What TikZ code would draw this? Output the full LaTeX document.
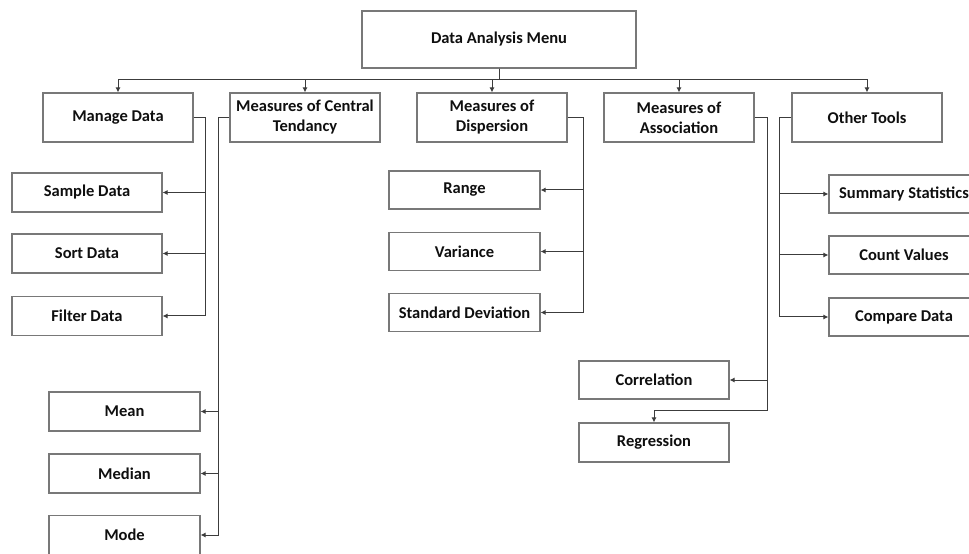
\documentclass[tikz,border=0pt]{standalone}
\usepackage{fontspec}
\setmainfont{Carlito}
\usetikzlibrary{arrows.meta}

\definecolor{boxline}{RGB}{120,120,120}
\definecolor{wire}{RGB}{60,60,60}
\definecolor{ink}{RGB}{15,15,15}

\tikzset{
  menubox/.style={draw=boxline, line width=1.1bp, rectangle, inner sep=0pt,
    align=center, text=ink, font=\fontsize{16.5bp}{20bp}\selectfont\bfseries,
    minimum width=150bp, minimum height=49bp},
  leafbox/.style={menubox, minimum height=39bp},
  wireline/.style={draw=wire, line width=1bp},
  wirearrow/.style={wireline, -{Latex[length=5bp,width=5bp]}}
}

\begin{document}
\begin{tikzpicture}[x=1bp, y=-1bp]
  \useasboundingbox[fill=white] (0,0) rectangle (969,554);

  % root
  \node[menubox, minimum width=274bp, minimum height=57bp] (root) at (499,39.5) {Data Analysis Menu};

  % first level
  \node[menubox] (manage) at (118,117.5) {Manage Data};
  \node[menubox] (central) at (305,117.5) {Measures of Central\\Tendancy};
  \node[menubox] (disp) at (492,117.5) {Measures of\\Dispersion};
  \node[menubox] (assoc) at (679,117.5) {Measures of\\Association};
  \node[menubox] (other) at (867,117.5) {Other Tools};

  % Manage Data
  \node[leafbox] (sample) at (87,192.5) {Sample Data};
  \node[leafbox] (sort) at (87,253.5) {Sort Data};
  \node[leafbox] (filter) at (87,316) {Filter Data};

  % Central tendancy
  \node[leafbox, minimum width=151bp] (mean) at (124.5,411.5) {Mean};
  \node[leafbox, minimum width=151bp] (median) at (124.5,473.5) {Median};
  \node[leafbox, minimum width=151bp] (mode) at (124.5,535) {Mode};

  % Dispersion
  \node[leafbox, minimum width=151bp, minimum height=38bp] (range) at (464.5,190) {Range};
  \node[leafbox, minimum width=151bp, minimum height=38bp] (variance) at (464.5,251.5) {Variance};
  \node[leafbox, minimum width=151bp, minimum height=38bp] (stddev) at (464.5,312.5) {Standard Deviation};

  % Association
  \node[leafbox, minimum height=38bp] (corr) at (654,380) {Correlation};
  \node[leafbox] (regr) at (654,442.5) {Regression};

  % Other tools
  \node[leafbox, minimum height=38bp] (summary) at (904,194) {Summary Statistics};
  \node[leafbox, minimum height=38bp] (count) at (904,255) {Count Values};
  \node[leafbox, minimum height=38bp] (compare) at (904,317) {Compare Data};

  % trunk positions
  \coordinate (bus) at (0,80);
  \coordinate (mdx) at (205,0);
  \coordinate (ctx) at (218,0);
  \coordinate (dsx) at (583,0);
  \coordinate (asx) at (767,0);
  \coordinate (asturn) at (767,410);
  \coordinate (otx) at (779,0);

  % root to first level
  \draw[wirearrow] (root.south) -- (root.south |- bus) -| (manage.north);
  \draw[wirearrow] (root.south) -- (root.south |- bus) -| (central.north);
  \draw[wirearrow] (root.south) -- (root.south |- bus) -| (disp.north);
  \draw[wirearrow] (root.south) -- (root.south |- bus) -| (assoc.north);
  \draw[wirearrow] (root.south) -- (root.south |- bus) -| (other.north);

  % Manage Data branch
  \draw[wirearrow] (manage.east) -| (mdx |- filter.east) -- (filter.east);
  \draw[wirearrow] (mdx |- sample.east) -- (sample.east);
  \draw[wirearrow] (mdx |- sort.east) -- (sort.east);

  % Central tendancy branch
  \draw[wirearrow] (central.west) -| (ctx |- mode.east) -- (mode.east);
  \draw[wirearrow] (ctx |- mean.east) -- (mean.east);
  \draw[wirearrow] (ctx |- median.east) -- (median.east);

  % Dispersion branch
  \draw[wirearrow] (disp.east) -| (dsx |- stddev.east) -- (stddev.east);
  \draw[wirearrow] (dsx |- range.east) -- (range.east);
  \draw[wirearrow] (dsx |- variance.east) -- (variance.east);

  % Association branch
  \draw[wirearrow] (assoc.east) -| (asturn) -| (regr.north);
  \draw[wirearrow] (asx |- corr.east) -- (corr.east);

  % Other tools branch
  \draw[wirearrow] (other.west) -| (otx |- compare.west) -- (compare.west);
  \draw[wirearrow] (otx |- summary.west) -- (summary.west);
  \draw[wirearrow] (otx |- count.west) -- (count.west);
\end{tikzpicture}
\end{document}
